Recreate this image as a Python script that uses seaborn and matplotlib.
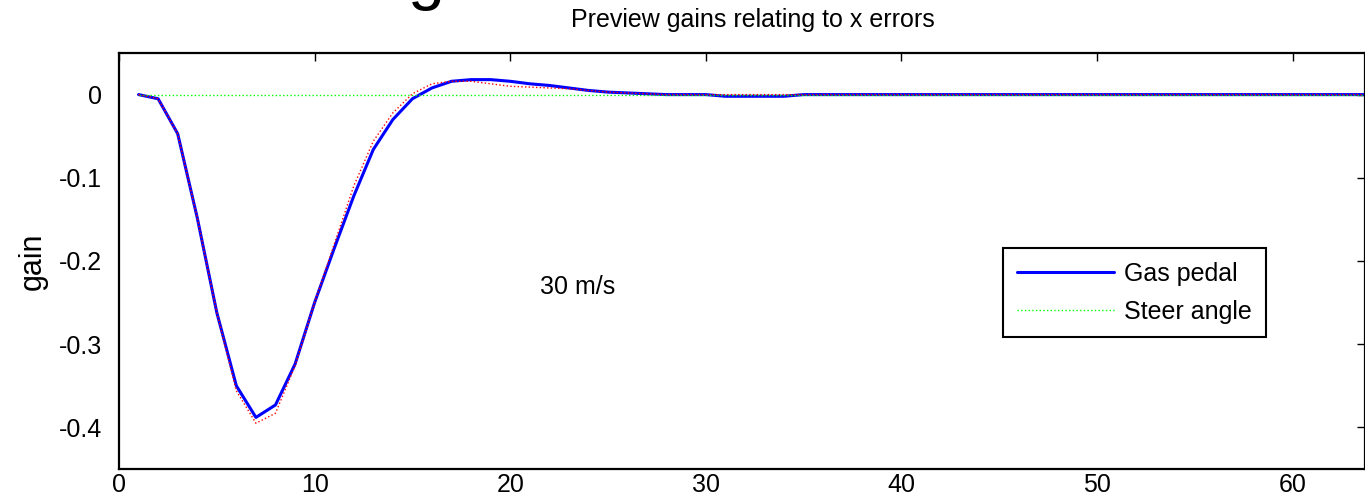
import matplotlib
matplotlib.use("Agg")
import matplotlib.pyplot as plt
import seaborn as sns
import pandas as pd

# ---- data ----
steps = list(range(1, 65))
gas_pedal = [0.000, -0.005, -0.047, -0.148, -0.262, -0.350, -0.388, -0.373,
             -0.324, -0.250, -0.185, -0.122, -0.066, -0.030, -0.005, 0.008,
             0.016, 0.018, 0.018, 0.016, 0.013, 0.011, 0.008, 0.005,
             0.003, 0.002, 0.001, 0.000, 0.000, 0.000, -0.002, -0.002,
             -0.002, -0.002, 0.000, 0.000, 0.000, 0.000, 0.000, 0.000,
             0.000, 0.000, 0.000, 0.000, 0.000, 0.000, 0.000, 0.000,
             0.000, 0.000, 0.000, 0.000, 0.000, 0.000, 0.000, 0.000,
             0.000, 0.000, 0.000, 0.000, 0.000, 0.000, 0.000, 0.000]
reference = [0.000, -0.005, -0.047, -0.148, -0.262, -0.356, -0.395, -0.383,
             -0.326, -0.250, -0.180, -0.110, -0.056, -0.022, 0.001, 0.013,
             0.016, 0.016, 0.013, 0.010, 0.009, 0.008, 0.007, 0.005,
             0.003, 0.002, 0.001, 0.000, 0.000, 0.000, 0.000, 0.000,
             0.000, 0.000, 0.000, 0.000, 0.000, 0.000, 0.000, 0.000,
             0.000, 0.000, 0.000, 0.000, 0.000, 0.000, 0.000, 0.000,
             0.000, 0.000, 0.000, 0.000, 0.000, 0.000, 0.000, 0.000,
             0.000, 0.000, 0.000, 0.000, 0.000, 0.000, 0.000, 0.000]
steer_angle = [0.000] * 64

x_ticks = [0, 10, 20, 30, 40, 50, 60]
y_ticks = [0, -0.1, -0.2, -0.3, -0.4]
y_tick_labels = ["0", "-0.1", "-0.2", "-0.3", "-0.4"]
x_tick_labels = ["0", "10", "20", "30", "40", "50", "60"]

df = pd.DataFrame({"step": steps, "gas": gas_pedal, "ref": reference,
                   "steer": steer_angle})

sns.set_style("white")
plt.rcParams["font.family"] = ["Liberation Sans", "DejaVu Sans"]
plt.rcParams["axes.unicode_minus"] = False
plt.rcParams["text.color"] = "black"
plt.rcParams["axes.labelcolor"] = "black"
plt.rcParams["xtick.color"] = "black"
plt.rcParams["ytick.color"] = "black"

fig = plt.figure(figsize=(13.65, 5.03), dpi=100)
ax = fig.add_axes([119 / 1365, 1 - 469 / 503, 1 - 119 / 1365, (469 - 53) / 503])

sns.lineplot(data=df, x="step", y="gas", ax=ax, color="#0000ff", lw=2.2,
             label="Gas pedal")
sns.lineplot(data=df, x="step", y="steer", ax=ax, color="#00ff00", lw=1.0,
             linestyle=":", label="Steer angle")
sns.lineplot(data=df, x="step", y="ref", ax=ax, color="#ff0000", lw=1.0,
             linestyle=":", label="_nolegend_")

ax.set_xlim(0, 63.7)
ax.set_ylim(-0.45, 0.05)
ax.set_xticks(x_ticks)
ax.set_xticklabels(x_tick_labels)
ax.set_yticks(y_ticks)
ax.set_yticklabels(y_tick_labels)
ax.tick_params(axis="both", direction="in", top=True, right=True, length=6,
               width=1.0, labelsize=18, colors="black")
ax.tick_params(axis="y", pad=12)
ax.tick_params(axis="x", pad=3)
for s in ax.spines.values():
    s.set_visible(True)
    s.set_color("black")
    s.set_linewidth(1.6)
ax.set_xlabel("")
ax.set_ylabel("gain", fontsize=22, labelpad=8)

ax.text(21.5, -0.231, "30 m/s", fontsize=18, ha="left", va="center")

leg = ax.legend(loc="upper left", bbox_to_anchor=(1003 / 1365, 1 - 248 / 503),
                bbox_transform=fig.transFigure, borderaxespad=0,
                fancybox=False, frameon=True, fontsize=18, handlelength=3.9,
                borderpad=0.55, labelspacing=0.55, handletextpad=0.4)
leg.get_frame().set_edgecolor("black")
leg.get_frame().set_linewidth(1.5)
leg.get_frame().set_alpha(1)

fig.text(426 / 1365, 1 + 3 / 503, "g", fontsize=48, ha="center",
         va="baseline")
fig.text(753 / 1365, 1 - 20 / 503, "Preview gains relating to x errors",
         fontsize=18, ha="center", va="center")

fig.savefig("out.png", dpi=100)
